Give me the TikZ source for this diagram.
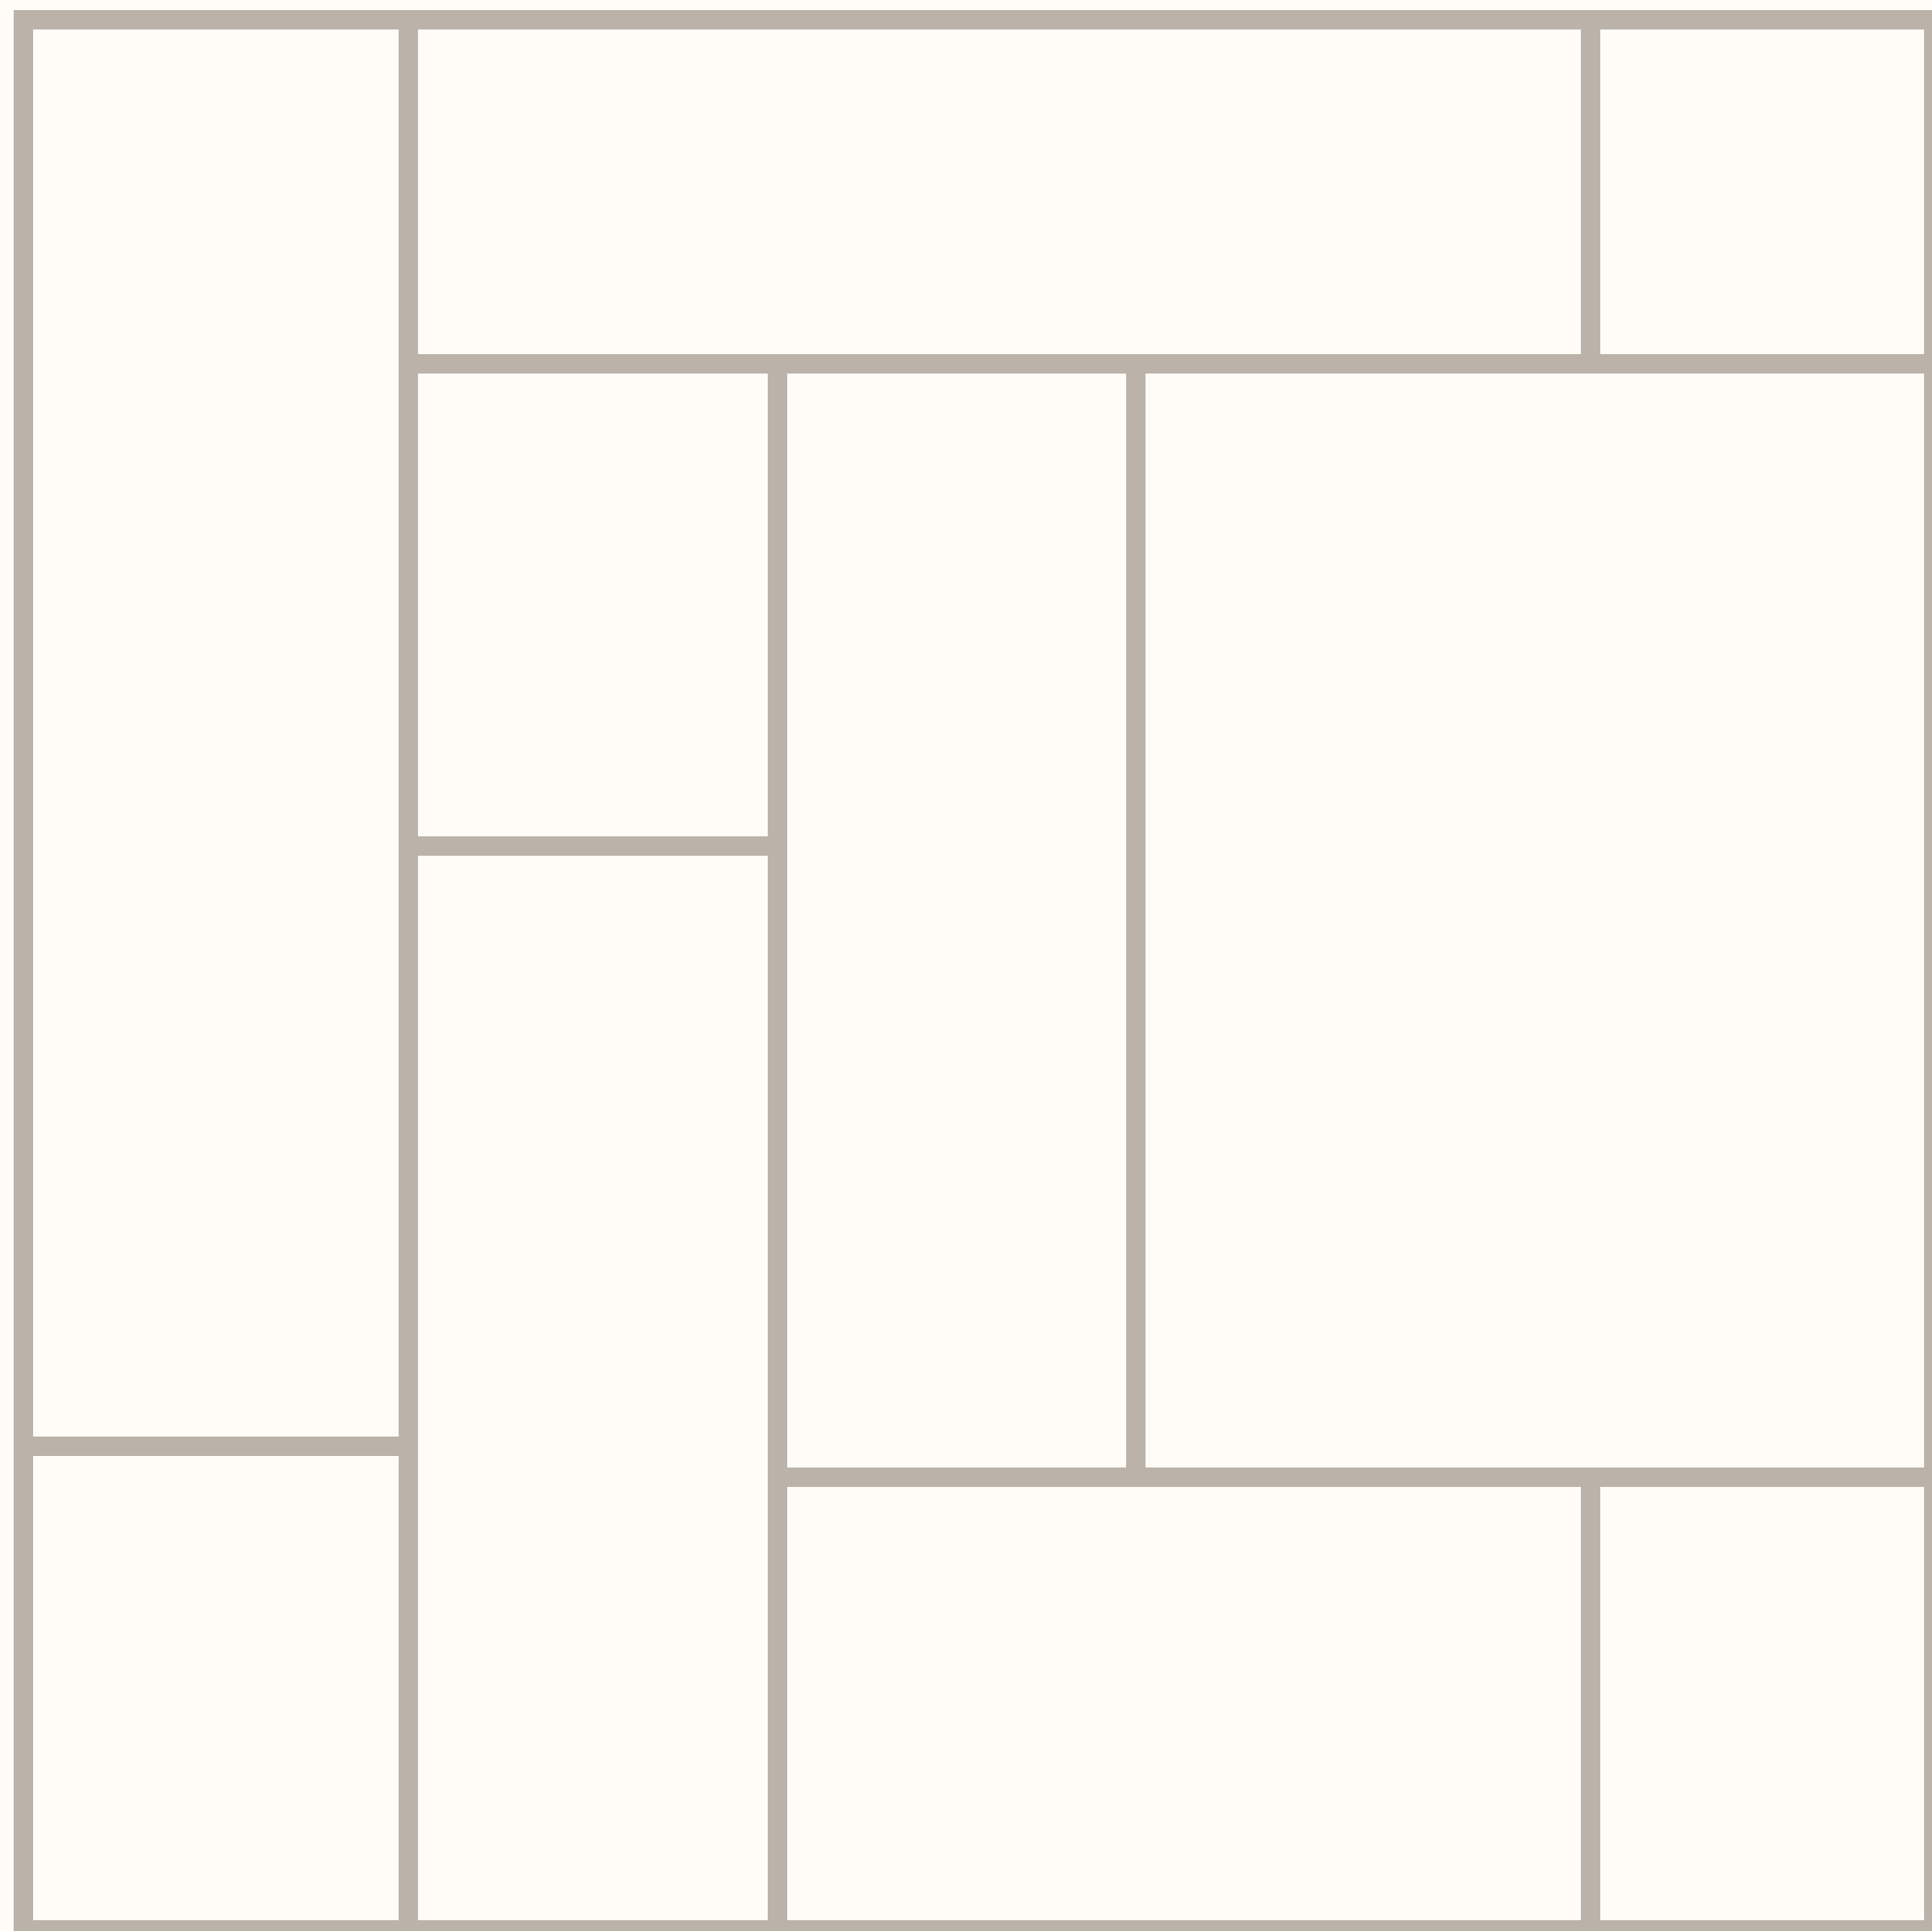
\documentclass[tikz,border=0pt]{standalone}
\usepackage{xcolor}
\usepackage{tikz}

\definecolor{wallgray}{RGB}{187,179,170}
\definecolor{floorcream}{RGB}{255,252,247}

\begin{document}
\begin{tikzpicture}[
  room/.style={draw=wallgray, line width=0.27cm, line join=miter},
  floor/.style={fill=floorcream}
]

% page and floor
\fill[floor] (0,0) rectangle (26.85,26.82);
\useasboundingbox (0,0) rectangle (26.85,26.82);

% left column
\draw[room] (0.32,6.72) rectangle (5.675,26.54);
\draw[room] (0.32,0.01) rectangle (5.675,6.72);

% top band
\draw[room] (5.675,21.763) rectangle (22.105,26.54);
\draw[room] (22.105,21.763) rectangle (26.87,26.54);

% middle
\draw[room] (5.675,15.065) rectangle (10.80,21.763);
\draw[room] (5.675,0.01) rectangle (10.80,15.065);
\draw[room] (10.80,6.293) rectangle (15.785,21.763);
\draw[room] (15.785,6.293) rectangle (26.87,21.763);

% bottom
\draw[room] (10.80,0.01) rectangle (22.105,6.293);
\draw[room] (22.105,0.01) rectangle (26.87,6.293);

\end{tikzpicture}
\end{document}
